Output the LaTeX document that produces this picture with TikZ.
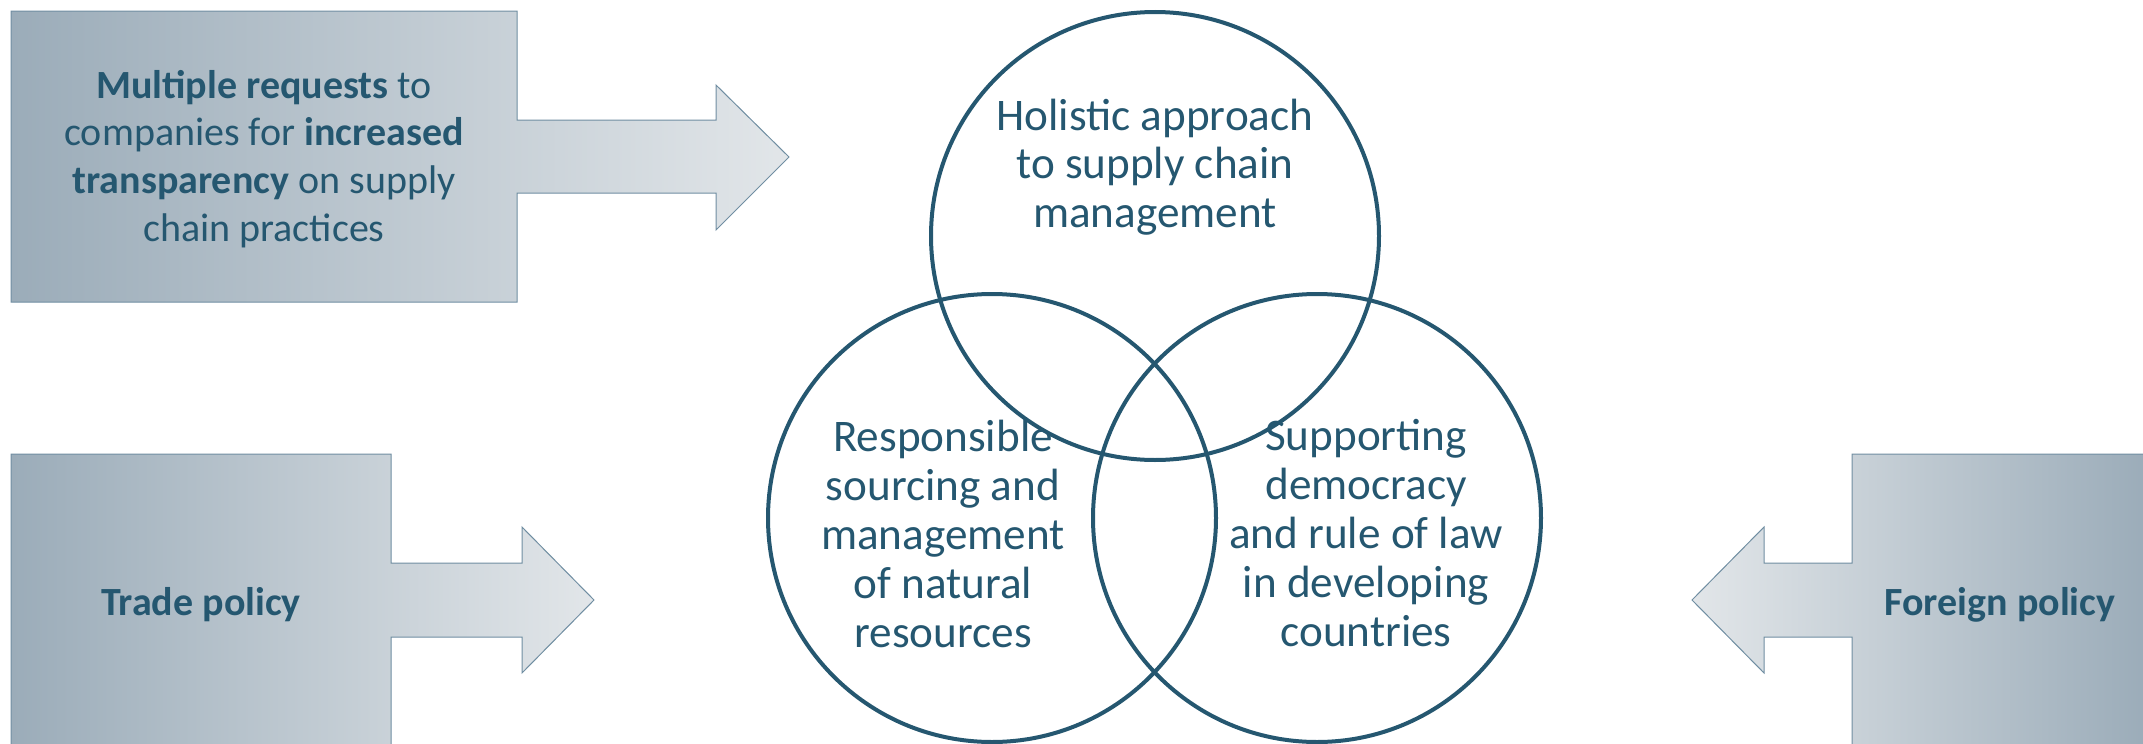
\documentclass[tikz,border=0pt]{standalone}
\usepackage{fontspec}
\setmainfont{Carlito}
\definecolor{vennblue}{RGB}{37,87,112}
\definecolor{boxdark}{RGB}{155,172,185}
\definecolor{boxlight}{RGB}{226,230,233}
\definecolor{boxedge}{RGB}{112,142,162}

\begin{document}
\begin{tikzpicture}[x=0.5pt,y=-0.5pt,
    ring/.style={circle,draw=vennblue,line width=2pt,minimum size=224pt,inner sep=0pt},
    ringtext/.style={text=vennblue,align=center,font=\fontsize{22.6}{24.4}\selectfont},
    callout/.style={draw=boxedge,line width=0.5pt},
    callouttext/.style={text=vennblue,align=center,font=\fontsize{20}{23.9}\selectfont}]
      \useasboundingbox (0,0) rectangle (2143,744);
      \clip (0,0) rectangle (2143,744);
      % callouts
      \draw[callout,left color=boxdark,right color=boxlight] (11,11) -- (517,11) -- (517,120) -- (716,120) -- (716,85) -- (789,157) -- (716,230) -- (716,193) -- (517,193) -- (517,302) -- (11,302) -- cycle;
      \draw[callout,left color=boxdark,right color=boxlight] (11,454) -- (391,454) -- (391,563) -- (522,563) -- (522,527) -- (594,600) -- (522,673) -- (522,637) -- (391,637) -- (391,748) -- (11,748) -- cycle;
      \draw[callout,left color=boxlight,right color=boxdark] (2147,454) -- (1852,454) -- (1852,563) -- (1764,563) -- (1764,527) -- (1692,600) -- (1764,673) -- (1764,637) -- (1852,637) -- (1852,748) -- (2147,748) -- cycle;
      \node[callouttext] (requests) at (264,159) {\textbf{Multiple requests} to\\companies for \textbf{increased}\\\textbf{transparency} on supply\\chain practices};
      \node[callouttext] (trade) at (201,605) {\textbf{Trade policy}};
      \node[callouttext] (foreign) at (2000,605) {\textbf{Foreign policy}};
      % venn
      \node[ring] (supply) at (1155,236) {};
      \node[ring] (sourcing) at (992,518) {};
      \node[ring] (democracy) at (1317,518) {};
      \node[ringtext] (supplytext) at (1155,167) {Holistic approach\\to supply chain\\management};
      \node[ringtext] (sourcingtext) at (943,534) {Responsible\\sourcing and\\management\\of natural\\resources};
      \node[ringtext] (democracytext) at (1366,533) {Supporting\\democracy\\and rule of law\\in developing\\countries};
    \end{tikzpicture}
\end{document}
